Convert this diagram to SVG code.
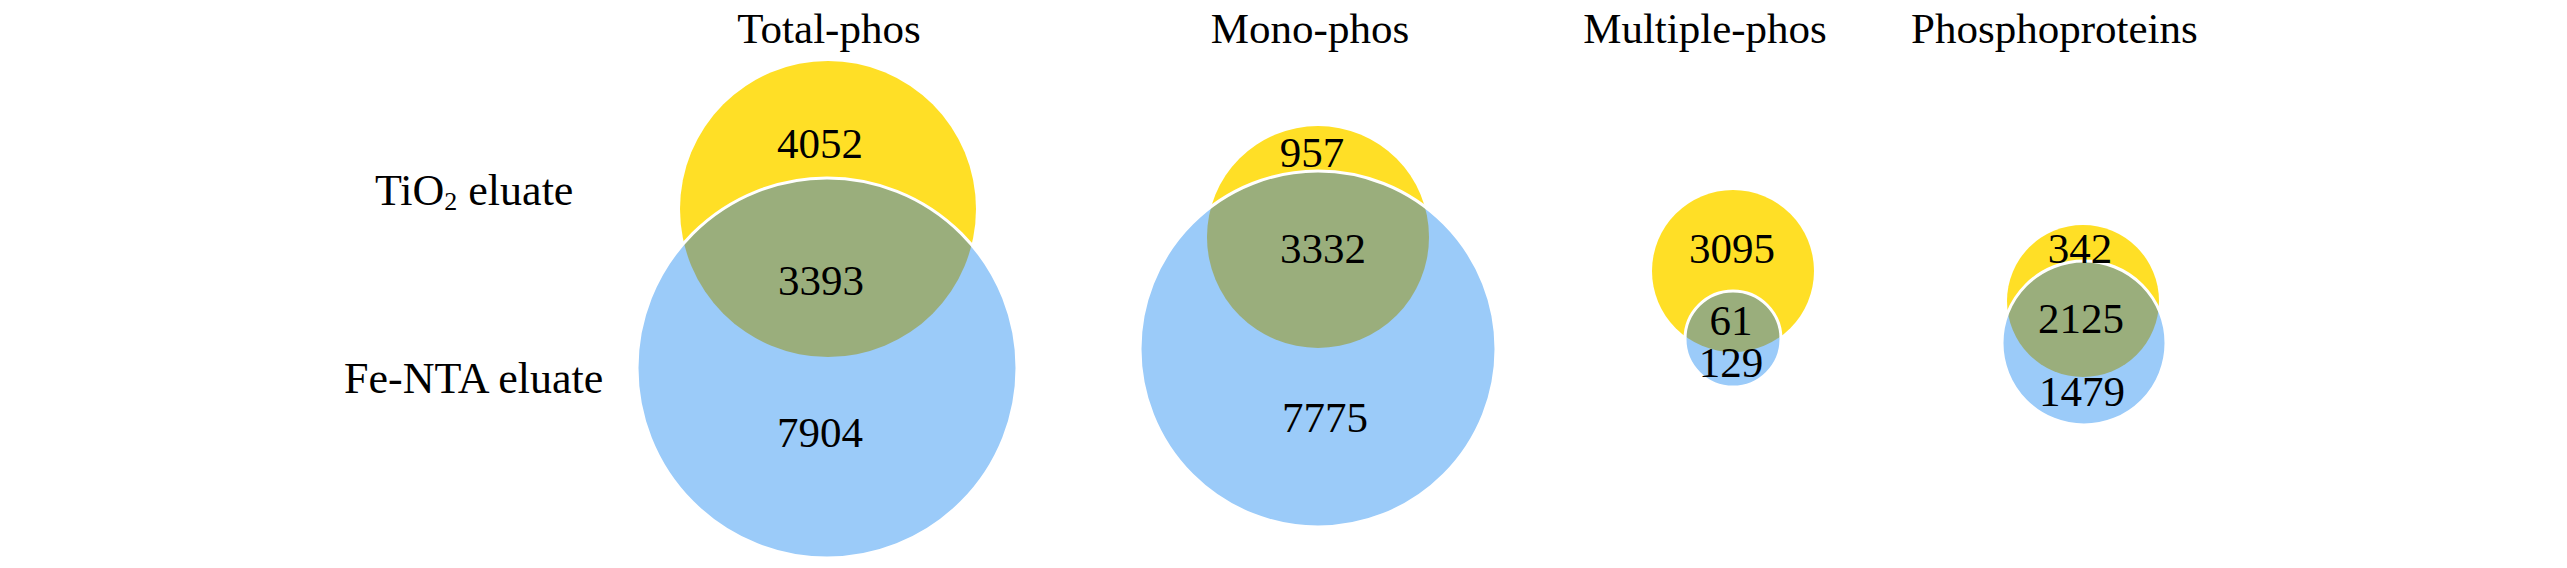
<svg xmlns="http://www.w3.org/2000/svg" width="2567" height="568" viewBox="0 0 2567 568">
  <style>
    text { font-family: "Liberation Serif", "Times New Roman", serif; font-size: 43px; fill: #000; }
    .c { text-anchor: middle; }
    .lbl { font-size: 44px; }
    .yellow { fill: #FFDF26; }
    .blue { fill: #9BCBF9; }
    .green { fill: #9AAE7C; }
    .edge { fill: none; stroke: #FFFFFF; stroke-width: 3; }
  </style>
  <defs>
    <clipPath id="clipY1"><circle cx="828" cy="209" r="148"/></clipPath>
    <clipPath id="clipY2"><circle cx="1318" cy="237" r="111"/></clipPath>
    <clipPath id="clipY3"><circle cx="1733" cy="271" r="81"/></clipPath>
    <clipPath id="clipY4"><circle cx="2083" cy="301" r="76"/></clipPath>
  </defs>
  <rect width="2567" height="568" fill="#FFFFFF"/>

  <g id="row-labels">
    <text class="lbl" x="375" y="205">TiO<tspan font-size="26" dy="5">2</tspan><tspan dy="-5"> eluate</tspan></text>
    <text class="lbl" x="344" y="393">Fe-NTA eluate</text>
  </g>

  <g id="venn-total-phos">
    <text class="c" x="829" y="43">Total-phos</text>
    <circle class="yellow" cx="828" cy="209" r="148"/>
    <circle class="blue" cx="827" cy="368" r="190"/>
    <circle class="green" cx="827" cy="368" r="190" clip-path="url(#clipY1)"/>
    <circle class="edge" cx="827" cy="368" r="190"/>
    <text class="c" x="820" y="158">4052</text>
    <text class="c" x="821" y="295">3393</text>
    <text class="c" x="820" y="447">7904</text>
  </g>

  <g id="venn-mono-phos">
    <text class="c" x="1310" y="43">Mono-phos</text>
    <circle class="yellow" cx="1318" cy="237" r="111"/>
    <circle class="blue" cx="1318" cy="349" r="178"/>
    <circle class="green" cx="1318" cy="349" r="178" clip-path="url(#clipY2)"/>
    <circle class="edge" cx="1318" cy="349" r="178"/>
    <text class="c" x="1312" y="167">957</text>
    <text class="c" x="1323" y="263">3332</text>
    <text class="c" x="1325" y="432">7775</text>
  </g>

  <g id="venn-multiple-phos">
    <text class="c" x="1705" y="43">Multiple-phos</text>
    <circle class="yellow" cx="1733" cy="271" r="81"/>
    <circle class="blue" cx="1733" cy="339" r="48"/>
    <circle class="green" cx="1733" cy="339" r="48" clip-path="url(#clipY3)"/>
    <circle class="edge" cx="1733" cy="339" r="48"/>
    <text class="c" x="1732" y="263">3095</text>
    <text class="c" x="1731" y="335">61</text>
    <text class="c" x="1731" y="377">129</text>
  </g>

  <g id="venn-phosphoproteins">
    <text x="1911" y="43">Phosphoproteins</text>
    <circle class="yellow" cx="2083" cy="301" r="76"/>
    <circle class="blue" cx="2084" cy="343" r="82"/>
    <circle class="green" cx="2084" cy="343" r="82" clip-path="url(#clipY4)"/>
    <circle class="edge" cx="2084" cy="343" r="82"/>
    <text class="c" x="2080" y="263">342</text>
    <text class="c" x="2081" y="333">2125</text>
    <text class="c" x="2082" y="406">1479</text>
  </g>
</svg>
